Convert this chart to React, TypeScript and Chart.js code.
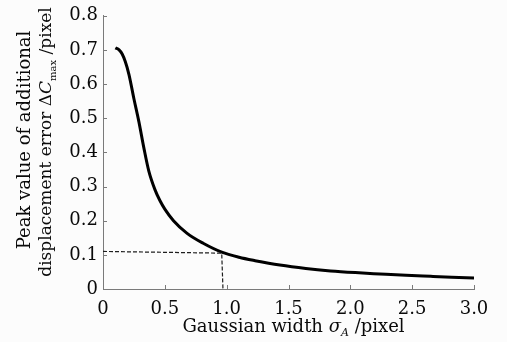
import React, { useEffect, useRef } from 'react';
import { Chart, registerables } from 'chart.js';

Chart.register(...registerables);

// Gaussian width sigma_A (pixel)
const sigmaA = [0.1, 0.13, 0.155, 0.18, 0.21, 0.25, 0.29, 0.33, 0.37, 0.42, 0.46, 0.5, 0.57, 0.68, 0.81, 0.96, 1.1, 1.23, 1.43, 1.64, 1.84, 2.04, 2.24, 2.45, 2.65, 2.82, 3.0];
// Peak value of additional displacement error (pixel)
const peakError = [0.706, 0.7, 0.688, 0.666, 0.628, 0.557, 0.49, 0.414, 0.346, 0.291, 0.259, 0.234, 0.2, 0.163, 0.134, 0.108, 0.093, 0.083, 0.07, 0.06, 0.053, 0.048, 0.044, 0.04, 0.037, 0.0345, 0.032];
// dashed guide line
const guideX = [0, 0.96, 0.97];
const guideY = [0.11, 0.105, 0];

const xTicks = [0, 0.5, 1.0, 1.5, 2.0, 2.5, 3.0];
const yTicks = [0, 0.1, 0.2, 0.3, 0.4, 0.5, 0.6, 0.7, 0.8];
const fmt = (v: number) => (v === 0 ? '0' : v.toFixed(1));

const FONT = '"DejaVu Serif", "Liberation Serif", serif';
const TEXT = '#0a0a0a';

type Seg = { t: string; italic?: boolean; size: number; dy?: number };

function segFont(s: Seg) {
  return `${s.italic ? 'italic ' : ''}${s.size}px ${FONT}`;
}
function measure(ctx: CanvasRenderingContext2D, segs: Seg[]) {
  let w = 0;
  for (const s of segs) {
    ctx.font = segFont(s);
    w += ctx.measureText(s.t).width;
  }
  return w;
}
function drawSegs(ctx: CanvasRenderingContext2D, segs: Seg[], x: number, y: number) {
  let cx = x;
  ctx.textAlign = 'left';
  ctx.textBaseline = 'alphabetic';
  for (const s of segs) {
    ctx.font = segFont(s);
    ctx.fillText(s.t, cx, y + (s.dy || 0));
    cx += ctx.measureText(s.t).width;
  }
}

const xTitle: Seg[] = [
  { t: 'Gaussian width ', size: 18 },
  { t: 'σ', italic: true, size: 18 },
  { t: 'A', italic: true, size: 11, dy: 4 },
  { t: ' /pixel', size: 18 },
];
const yTitle1: Seg[] = [{ t: 'Peak value of additional', size: 18 }];
const yTitle2: Seg[] = [
  { t: 'displacement error Δ', size: 17 },
  { t: 'C', italic: true, size: 17 },
  { t: 'max', size: 10, dy: 5 },
  { t: ' /pixel', size: 17 },
];

const decorPlugin = {
  id: 'decor',
  beforeDraw(chart: any) {
    const ctx = chart.ctx;
    ctx.save();
    ctx.fillStyle = '#fcfcfc';
    ctx.fillRect(0, 0, chart.width, chart.height);
    ctx.restore();
  },
  afterDraw(chart: any) {
    const ctx = chart.ctx as CanvasRenderingContext2D;
    const { left, right, bottom } = chart.chartArea;
    const xs = chart.scales.x;
    const ys = chart.scales.y;
    ctx.save();
    // inward tick marks
    ctx.strokeStyle = '#7a7a7a';
    ctx.lineWidth = 1;
    ctx.beginPath();
    for (const v of xTicks) {
      const px = Math.round(xs.getPixelForValue(v)) + 0.5;
      ctx.moveTo(px, bottom);
      ctx.lineTo(px, bottom - 4);
    }
    for (const v of yTicks) {
      const py = Math.round(ys.getPixelForValue(v)) + 0.5;
      ctx.moveTo(left, py);
      ctx.lineTo(left + 4, py);
    }
    ctx.stroke();

    ctx.fillStyle = TEXT;
    // x title
    const wx = measure(ctx, xTitle);
    drawSegs(ctx, xTitle, (left + right) / 2 + 5 - wx / 2, 332);

    // y title (rotated)
    const w1 = measure(ctx, yTitle1);
    const w2 = measure(ctx, yTitle2);
    ctx.rotate(-Math.PI / 2);
    // rotated coords: x' = -screenY, y' = screenX
    drawSegs(ctx, yTitle1, -140 - w1 / 2, 30);
    drawSegs(ctx, yTitle2, -142 - w2 / 2, 51);
    ctx.restore();
  },
};

export default function App() {
  const ref = useRef<HTMLCanvasElement | null>(null);
  useEffect(() => {
    document.body.style.margin = '0';
    document.body.style.background = '#fcfcfc';
    const canvas = ref.current!;
    const chart = new Chart(canvas, {
      type: 'line',
      data: {
        datasets: [
          {
            data: guideX.map((x, i) => ({ x, y: guideY[i] })),
            borderColor: '#1e1e1e',
            borderWidth: 1.2,
            borderDash: [4, 2],
            pointRadius: 0,
            tension: 0,
            fill: false,
          },
          {
            data: sigmaA.map((x, i) => ({ x, y: peakError[i] })),
            borderColor: '#000000',
            borderWidth: 3,
            pointRadius: 0,
            cubicInterpolationMode: 'monotone',
            fill: false,
          },
        ],
      },
      options: {
        animation: false,
        responsive: false,
        devicePixelRatio: 1,
        layout: { padding: { left: 0, top: 15, right: 33, bottom: 0 } },
        plugins: { legend: { display: false }, tooltip: { enabled: false }, title: { display: false } },
        scales: {
          x: {
            type: 'linear',
            min: 0,
            max: 3,
            afterBuildTicks: (s: any) => {
              s.ticks = xTicks.map((v) => ({ value: v }));
            },
            afterFit: (s: any) => {
              s.height = 53;
            },
            grid: { display: false, drawTicks: false, tickLength: 0 },
            border: { display: true, color: '#7a7a7a', width: 1 },
            ticks: {
              callback: (v: any) => fmt(Number(v)),
              color: TEXT,
              font: { family: FONT, size: 18 },
              padding: 10,
              maxRotation: 0,
              autoSkip: false,
            },
          },
          y: {
            type: 'linear',
            min: 0,
            max: 0.8,
            afterBuildTicks: (s: any) => {
              s.ticks = yTicks.map((v) => ({ value: v }));
            },
            afterFit: (s: any) => {
              s.width = 103;
            },
            grid: { display: false, drawTicks: false, tickLength: 0 },
            border: { display: true, color: '#7a7a7a', width: 1 },
            ticks: {
              callback: (v: any) => fmt(Number(v)),
              color: TEXT,
              font: { family: FONT, size: 18 },
              padding: 5,
              autoSkip: false,
            },
          },
        },
      } as any,
      plugins: [decorPlugin],
    });
    return () => chart.destroy();
  }, []);
  return (
    <div style={{ position: 'fixed', left: 0, top: 0, width: 507, height: 342 }}>
      <canvas ref={ref} width={507} height={342} style={{ width: 507, height: 342, display: 'block' }} />
    </div>
  );
}
